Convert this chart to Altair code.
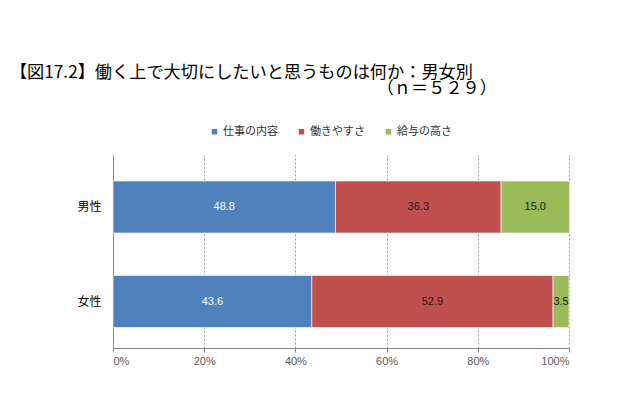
import altair as alt
import pandas as pd

categories = ["男性", "女性"]
series = ["仕事の内容", "働きやすさ", "給与の高さ"]
values_male = [48.8, 36.3, 15.0]
values_female = [43.6, 52.9, 3.5]
colors = ["#4F81BD", "#C0504D", "#9BBB59"]
x_ticks = [0, 20, 40, 60, 80, 100]

rows = []
for cat, vals in zip(categories, [values_male, values_female]):
    for i, (s, v) in enumerate(zip(series, vals)):
        rows.append({"category": cat, "series": s, "value": v, "order": i, "label": f"{v:.1f}"})
df = pd.DataFrame(rows)

FONT = "Noto Sans CJK JP"

base = alt.Chart(df).transform_stack(
    stack="value", groupby=["category"], as_=["start", "end"],
    sort=[alt.SortField("order", order="ascending")]
).transform_calculate(mid="(datum.start + datum.end) / 2")

y_enc = alt.Y("category:N", sort=categories, title=None,
              scale=alt.Scale(paddingInner=0.45, paddingOuter=0.246, align=0.56),
              axis=alt.Axis(labelFontSize=12, labelColor="#000000", labelFont=FONT,
                            ticks=False, domainColor="#888888", labelPadding=12))

bars = base.mark_bar(stroke="#ffffff", strokeWidth=0.6).encode(
    x=alt.X("start:Q", title=None,
            scale=alt.Scale(domain=[0, 100], nice=False),
            axis=alt.Axis(values=x_ticks, labelExpr="datum.value + '%'",
                          labelFontSize=11, labelColor="#595959", labelFont="Liberation Sans",
                          grid=True, gridDash=[2, 2], gridColor="#9a9a9a",
                          domainColor="#888888", tickColor="#888888", tickSize=4,
                          labelPadding=3)),
    x2="end:Q",
    y=y_enc,
    color=alt.Color("series:N", sort=series,
                    scale=alt.Scale(domain=series, range=colors),
                    legend=alt.Legend(title=None, orient="none", direction="horizontal",
                                      legendX=96, legendY=-29,
                                      symbolType="square", symbolSize=30,
                                      symbolStrokeWidth=0,
                                      labelFontSize=11, labelFont=FONT, labelColor="#333333",
                                      columnPadding=18, symbolOffset=0, labelOffset=3)),
)

labels = base.mark_text(fontSize=11, font="Liberation Sans").encode(
    x=alt.X("mid:Q"),
    y=alt.Y("category:N", sort=categories),
    text="label:N",
    color=alt.condition("datum.series == '仕事の内容'", alt.value("#ffffff"), alt.value("#1a1a1a")),
)

chart = alt.layer(bars, labels).properties(
    width=456,
    height=193,
    title=alt.TitleParams(
        text=["【図17.2】働く上で大切にしたいと思うものは何か：男女別\u2800\u2800", "（ｎ＝５２９）"],
        anchor="start", align="right", dx=420, offset=29,
        fontSize=17.2, fontWeight="normal", font=FONT, color="#000000", lineHeight=16,
    ),
    autosize=alt.AutoSizeParams(type="none"),
    padding={"left": 105, "top": 147, "right": 63, "bottom": 42},
).configure_view(stroke=None)

chart.save("out.html", embed_options={"renderer": "svg", "actions": False})
